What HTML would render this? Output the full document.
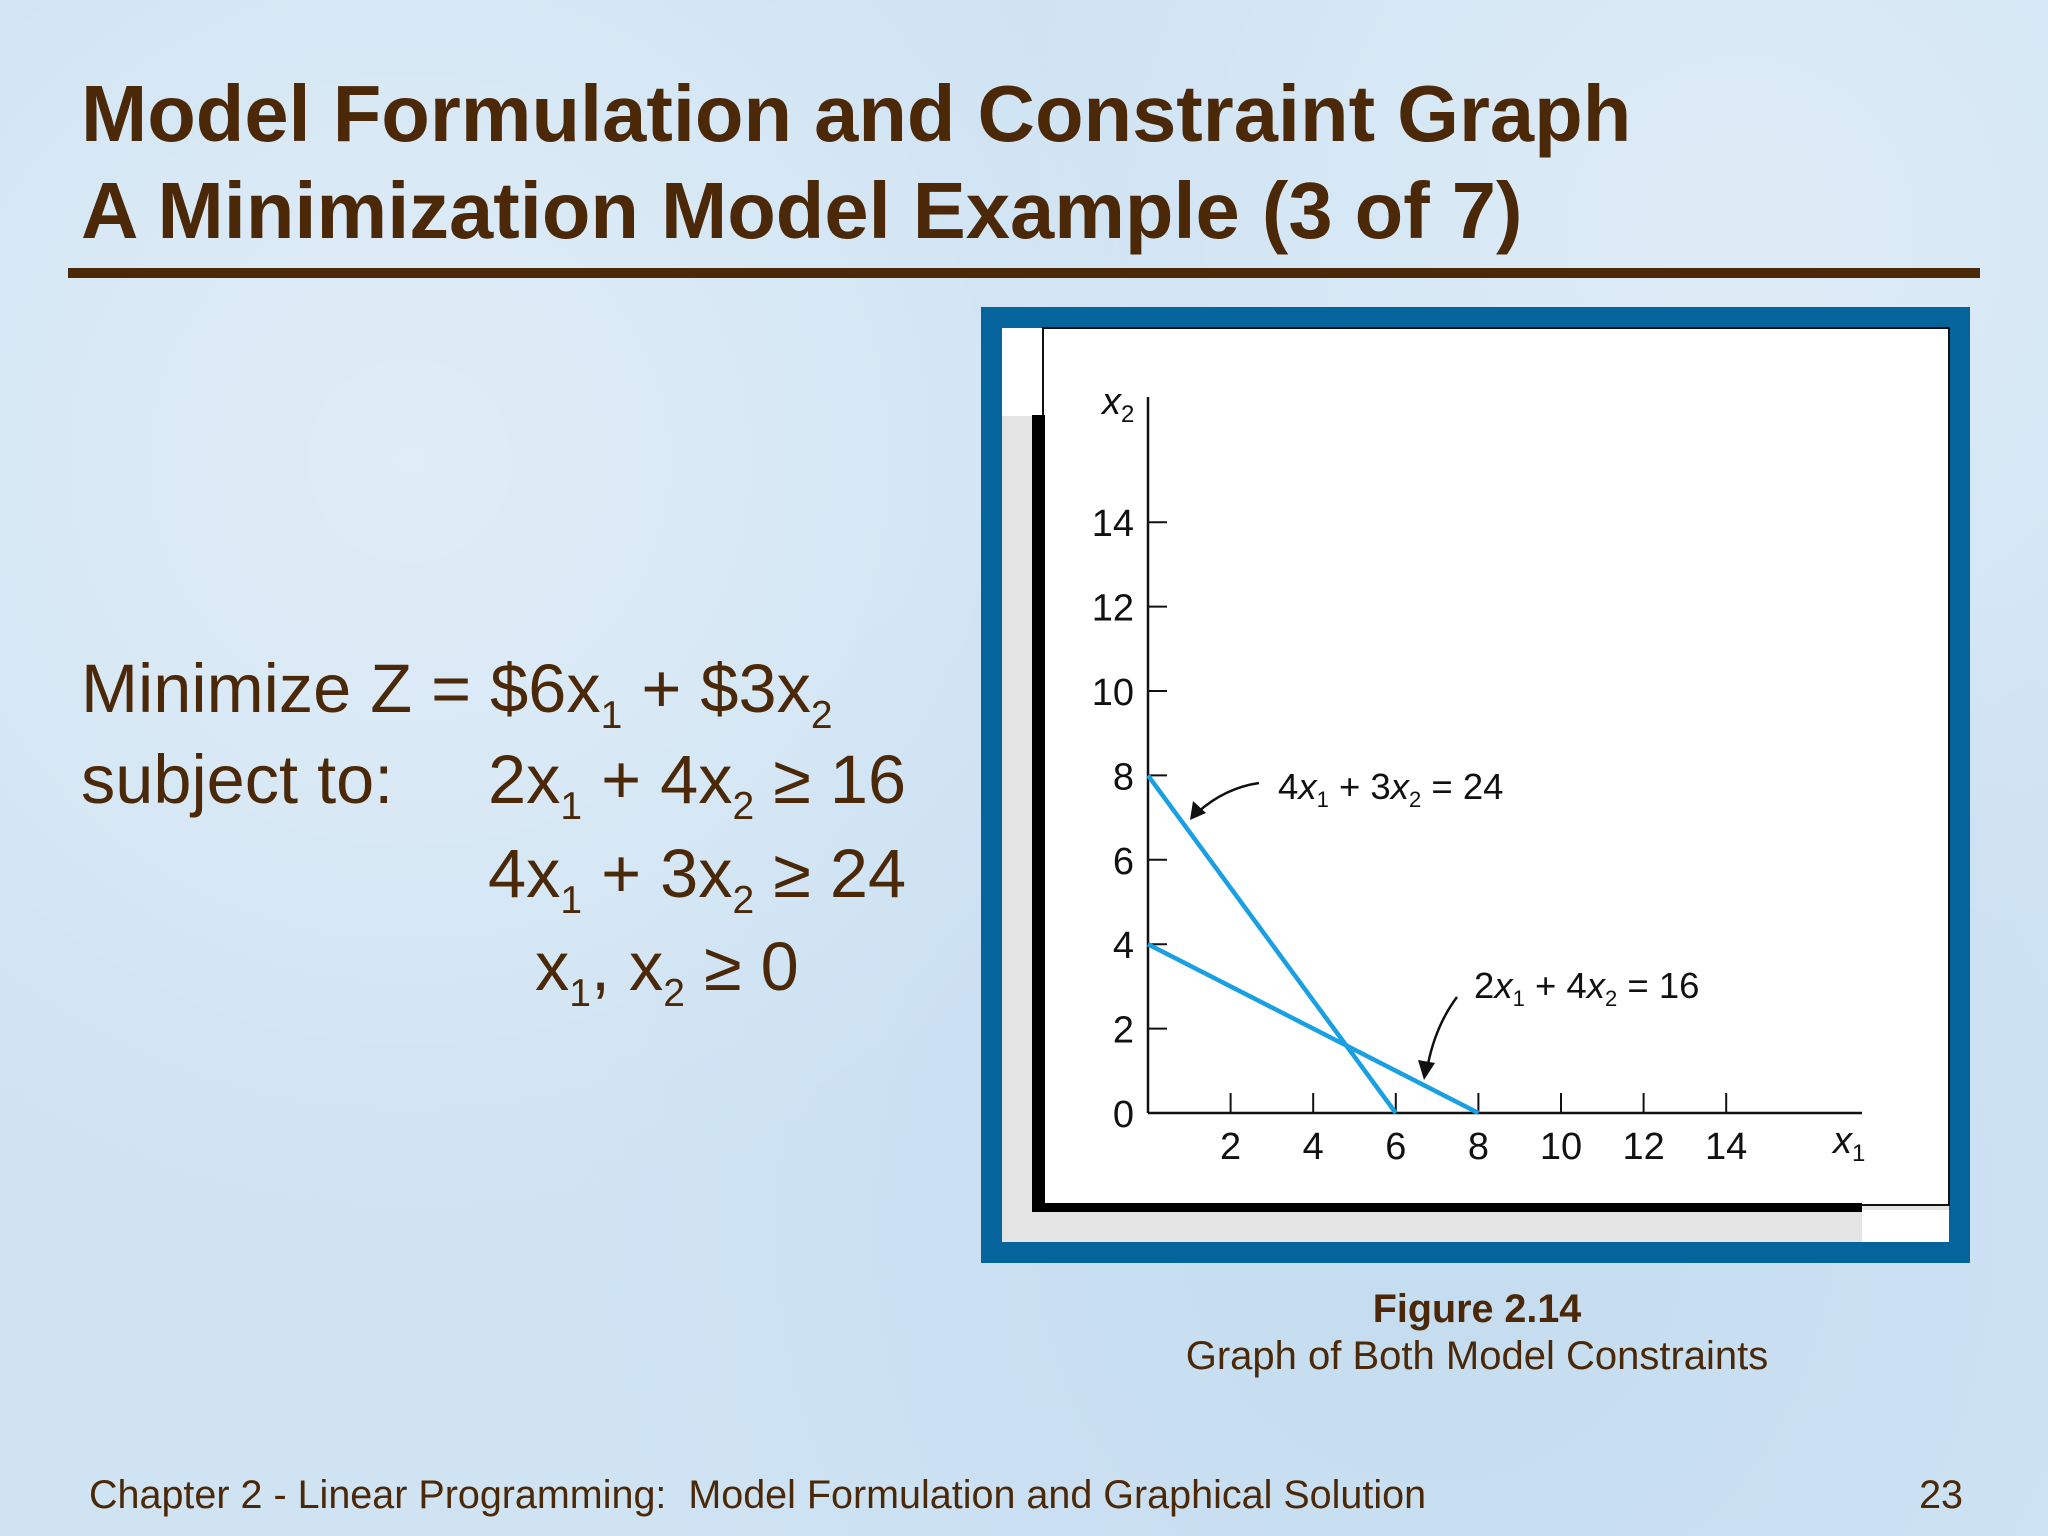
<!DOCTYPE html>
<html><head><meta charset="utf-8"><style>
html,body{margin:0;padding:0;}
body{width:2048px;height:1536px;overflow:hidden;background:#cfe3f3;
background-image:radial-gradient(circle at 20% 30%,rgba(255,255,255,.35),transparent 40%),radial-gradient(circle at 70% 80%,rgba(180,210,235,.4),transparent 45%),radial-gradient(circle at 85% 15%,rgba(255,255,255,.3),transparent 35%);}
svg{position:absolute;left:0;top:0;}
text{font-family:"Liberation Sans",Arial,sans-serif;white-space:pre;}
</style></head><body>
<svg width="2048" height="1536" viewBox="0 0 2048 1536">
 <g fill="#4a2808">
  <text x="81" y="141" font-size="79.5" font-weight="bold">Model Formulation and Constraint Graph</text>
  <text x="81" y="238" font-size="79.5" font-weight="bold">A Minimization Model Example (3 of 7)</text>
 </g>
 <rect x="68" y="268" width="1912" height="10" fill="#4a2808"/>
 <g fill="#4a2808" font-size="68.5">
  <text x="81" y="712">Minimize Z = $6x<tspan font-size="39" dy="16">1</tspan><tspan dy="-16"> + $3x</tspan><tspan font-size="39" dy="16">2</tspan></text>
  <text x="81" y="803">subject to:</text>
  <text x="488" y="803">2x<tspan font-size="39" dy="16">1</tspan><tspan dy="-16"> + 4x</tspan><tspan font-size="39" dy="16">2</tspan><tspan dy="-16"> ≥ 16</tspan></text>
  <text x="488" y="897">4x<tspan font-size="39" dy="16">1</tspan><tspan dy="-16"> + 3x</tspan><tspan font-size="39" dy="16">2</tspan><tspan dy="-16"> ≥ 24</tspan></text>
  <text x="535" y="990">x<tspan font-size="39" dy="16">1</tspan><tspan dy="-16">, x</tspan><tspan font-size="39" dy="16">2</tspan><tspan dy="-16"> ≥ 0</tspan></text>
 </g>
 <g>
  <rect x="981" y="307" width="989" height="956" fill="#06649c"/>
  <rect x="1002" y="328" width="947" height="914" fill="#e4e4e4"/>
  <rect x="1002" y="328" width="42" height="88" fill="#ffffff"/>
  <rect x="1862" y="1210" width="87" height="32" fill="#ffffff"/>
  <rect x="1043" y="328" width="906" height="877" fill="#ffffff" stroke="#111" stroke-width="2"/>
  <rect x="1032" y="415" width="13" height="797" fill="#000"/>
  <rect x="1032" y="1203" width="830" height="9" fill="#000"/>
 </g>
 <g id="chart"></g>
 <g fill="#4a2808" text-anchor="middle">
  <text x="1477" y="1322" font-size="39.5" font-weight="bold">Figure 2.14</text>
  <text x="1477" y="1369" font-size="40">Graph of Both Model Constraints</text>
 </g>
 <text x="89" y="1508" font-size="39.5" fill="#4a2808">Chapter 2 - Linear Programming:  Model Formulation and Graphical Solution</text>
 <text x="1963" y="1508" font-size="39.5" fill="#4a2808" text-anchor="end">23</text>
</svg>
<script>
const xTicks=[2,4,6,8,10,12,14];
const yTicks=[0,2,4,6,8,10,12,14];
const lineNames=["constraint-4x1-3x2-24","constraint-2x1-4x2-16"];
const lineStart=[[0,8],[0,4]];
const lineEnd=[[6,0],[8,0]];
const ox=1148, oy=1113, ux=41.3, uy=42.2;
const X=v=>ox+v*ux, Y=v=>oy-v*uy;
const NS="http://www.w3.org/2000/svg";
const g=document.getElementById('chart');
function mk(tag,attrs,parent){const e=document.createElementNS(NS,tag);for(const k in attrs)e.setAttribute(k,attrs[k]);(parent||g).appendChild(e);return e;}
let e;
e=mk('line',{x1:ox,y1:397,x2:ox,y2:oy,stroke:'#111','stroke-width':2.5});


e=mk('line',{x1:ox,y1:oy,x2:1862,y2:oy,stroke:'#111','stroke-width':2.5});


xTicks.forEach(t=>{
 e=mk('line',{x1:X(t),y1:oy,x2:X(t),y2:oy-20,stroke:'#111','stroke-width':2});
 
 
 e=mk('text',{x:X(t),y:1159,'font-size':38,'text-anchor':'middle',fill:'#111'});
 e.textContent=t;
 
 
});
yTicks.forEach(t=>{
 if(t>0){e=mk('line',{x1:ox,y1:Y(t),x2:ox+19,y2:Y(t),stroke:'#111','stroke-width':2});
 
 }
 e=mk('text',{x:1134,y:Y(t)+14,'font-size':38,'text-anchor':'end',fill:'#111'});
 e.textContent=t;
 
 
});
lineNames.forEach((n,i)=>{
 e=mk('line',{x1:X(lineStart[i][0]),y1:Y(lineStart[i][1]),x2:X(lineEnd[i][0]),y2:Y(lineEnd[i][1]),stroke:'#1aa0e2','stroke-width':4.5});
 
 
});
e=mk('text',{x:1102,y:414,'font-size':38,'font-style':'italic',fill:'#111'});
e.innerHTML='x<tspan font-size="24" dy="8" font-style="normal">2</tspan>';


e=mk('text',{x:1833,y:1153,'font-size':38,'font-style':'italic',fill:'#111'});
e.innerHTML='x<tspan font-size="24" dy="8" font-style="normal">1</tspan>';


e=mk('text',{x:1278,y:799,'font-size':36.5,fill:'#111'});
e.innerHTML='4<tspan font-style="italic">x</tspan><tspan font-size="22" dy="8">1</tspan><tspan dy="-8"> + 3</tspan><tspan font-style="italic">x</tspan><tspan font-size="22" dy="8">2</tspan><tspan dy="-8"> = 24</tspan>';


e=mk('text',{x:1474,y:998,'font-size':36.5,fill:'#111'});
e.innerHTML='2<tspan font-style="italic">x</tspan><tspan font-size="22" dy="8">1</tspan><tspan dy="-8"> + 4</tspan><tspan font-style="italic">x</tspan><tspan font-size="22" dy="8">2</tspan><tspan dy="-8"> = 16</tspan>';


e=mk('path',{d:'M1259 783 Q1225 788 1198 812',fill:'none',stroke:'#111','stroke-width':2.5});


e=mk('path',{d:'M1190 820 L1193 801 L1206 813 Z',fill:'#111'});


e=mk('path',{d:'M1457 997 Q1436 1025 1428 1064',fill:'none',stroke:'#111','stroke-width':2.5});


e=mk('path',{d:'M1424 1080 L1418 1060 L1435 1063 Z',fill:'#111'});


</script>
</body></html>
